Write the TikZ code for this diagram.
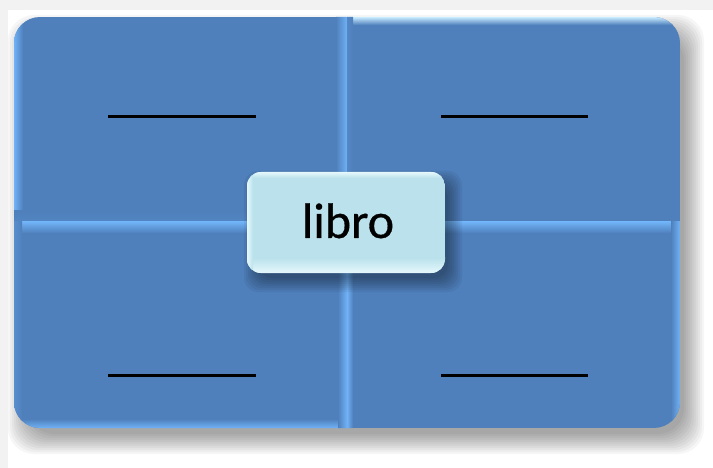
\documentclass[tikz,border=0pt]{standalone}
\usepackage{fontspec}
\setmainfont{Carlito}
\definecolor{bg}{HTML}{F2F2F2}
\definecolor{base}{RGB}{79,128,188}
\definecolor{hl}{RGB}{112,178,246}
\definecolor{hlw}{RGB}{200,235,255}
\definecolor{boxc}{RGB}{187,226,236}
\definecolor{boxl}{RGB}{230,248,252}
\tikzset{
  blank/.style={line width=3pt, black},
  shadowlayer/.style={fill=black, opacity=0.035},
  label/.style={font=\fontsize{50}{60}\selectfont\addfontfeature{FakeBold=0.6}, inner sep=0pt}
}
\begin{document}
\begin{tikzpicture}[x=1pt,y=-1pt]
\useasboundingbox (0,0) rectangle (713,468);
\fill[white] (0,0) rectangle (713,468);
\fill[bg] (0,0) rectangle (713,10);
\fill[bg] (0,0) rectangle (8,468);
% shadow of main panel
\foreach \e in {-6,-4,...,14}
  \fill[shadowlayer, rounded corners=26] (22-\e,29-\e) rectangle (690+\e,440+\e);
% main panel
\begin{scope}
  \clip[rounded corners=26] (14,17) rectangle (680,428);
  \fill[base] (14,17) rectangle (680,428);
  % top-left quadrant
  \shade[left color=hl, right color=base] (14,17) rectangle (23,222);
  \shade[left color=base, right color=hl] (336,17) rectangle (347,222);
  \shade[top color=base, bottom color=base!90!hl] (14,211) rectangle (347,222);
  % top-right quadrant
  \shade[top color=hlw, bottom color=base] (347,17) rectangle (680,25);
  % bottom-left quadrant
  \shade[top color=hl, bottom color=base] (14,222) rectangle (347,233);
  \shade[top color=base, bottom color=hl] (14,419) rectangle (347,428);
  \shade[left color=base!70!hl, right color=base] (14,222) rectangle (22,428);
  \shade[left color=base, right color=hl] (338,222) rectangle (347,428);
  % bottom-right quadrant
  \shade[top color=hl, bottom color=base] (347,222) rectangle (680,233);
  \shade[left color=base, right color=hl] (671,222) rectangle (680,428);
  \shade[left color=hl, right color=base] (347,222) rectangle (353,428);
  \shade[left color=base!85!hl, right color=base] (347,17) rectangle (353,222);
\end{scope}
% blanks
\draw[blank] (108,117) -- (256,117);
\draw[blank] (441,117) -- (588,117);
\draw[blank] (108,375) -- (256,375);
\draw[blank] (441,375) -- (588,375);
% shadow of centre box
\foreach \e in {-4,-2,...,10}
  \fill[shadowlayer, opacity=0.05, rounded corners=14] (254-\e,181-\e) rectangle (452+\e,282+\e);
% centre box
\begin{scope}
  \clip[rounded corners=14] (247,172) rectangle (445,273);
  \fill[boxc] (247,172) rectangle (445,273);
  \shade[top color=boxc, bottom color=boxl] (247,258) rectangle (445,273);
  \shade[top color=boxl, bottom color=boxc] (247,172) rectangle (445,178);
  \shade[left color=boxl, right color=boxc] (247,172) rectangle (253,273);
\end{scope}
\node[label, anchor=base] (libro) at (348,238) {libro};
\end{tikzpicture}
\end{document}
